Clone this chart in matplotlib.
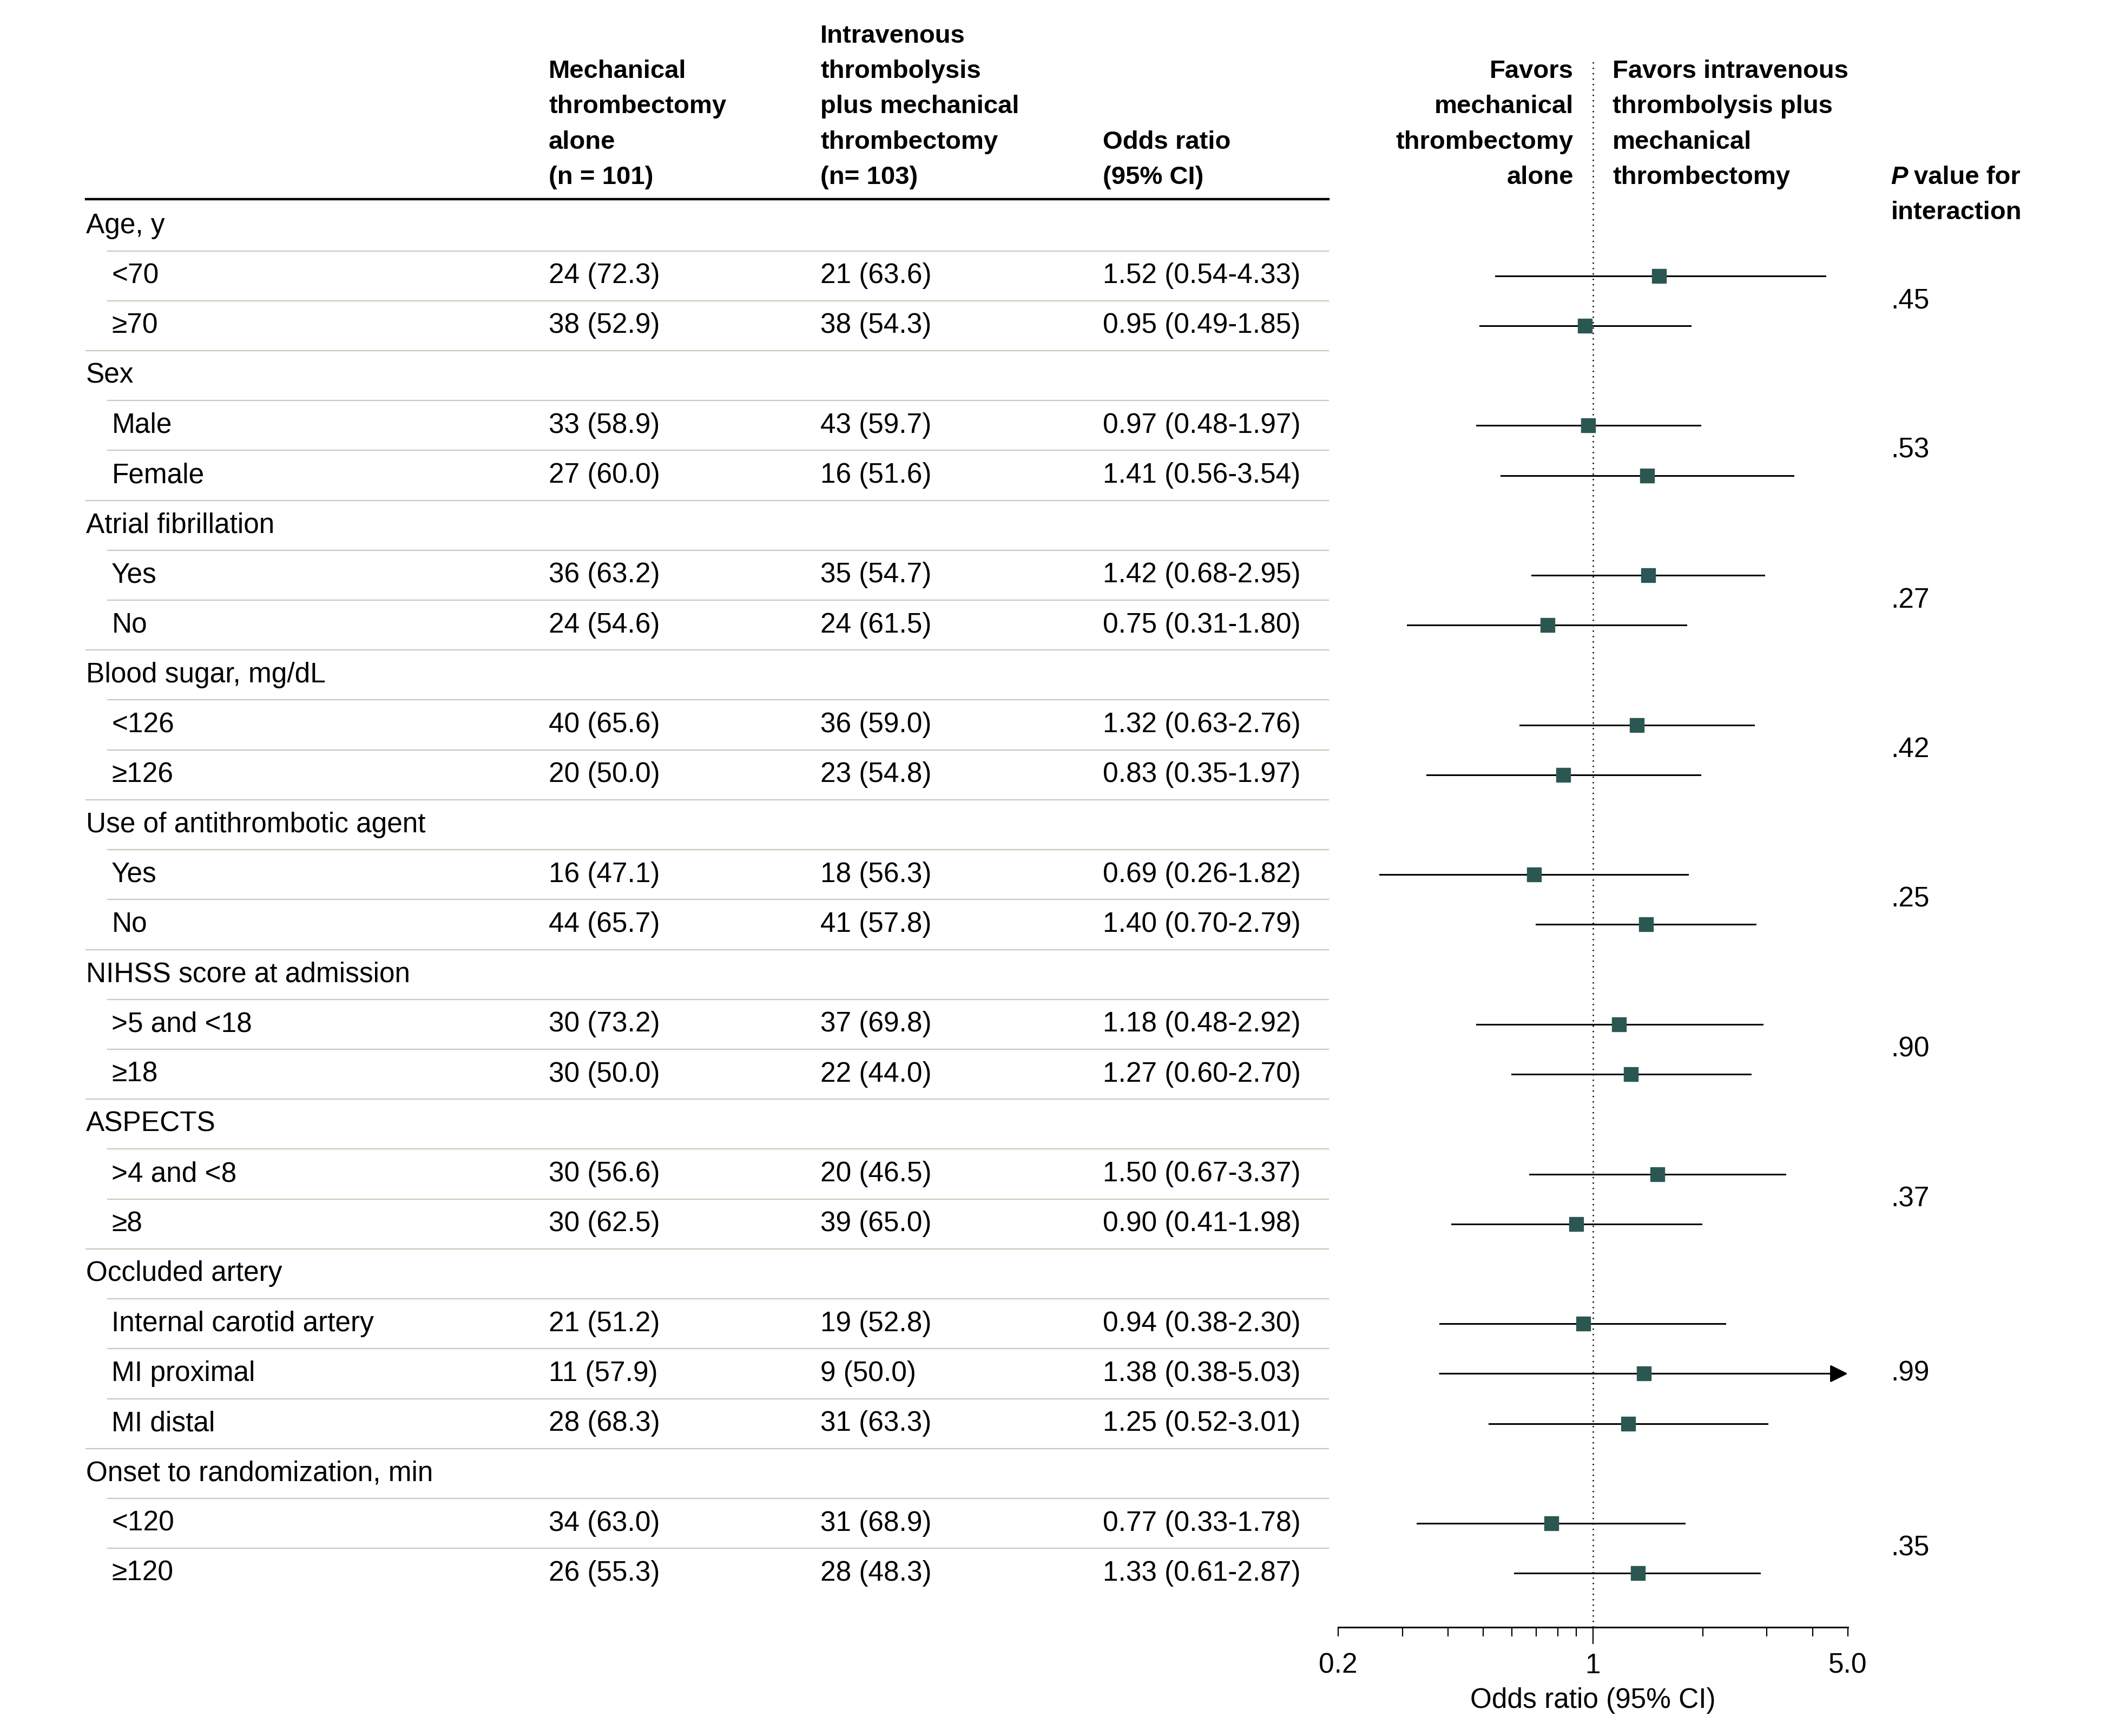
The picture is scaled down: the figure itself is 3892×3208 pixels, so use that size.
import numpy as np
import matplotlib.pyplot as plt
from matplotlib.ticker import FixedLocator, FixedFormatter, NullFormatter
from matplotlib.transforms import blended_transform_factory

plt.rcParams['font.family'] = ['Liberation Sans', 'DejaVu Sans']

# Data
groups = ['Age, y', 'Sex', 'Atrial fibrillation', 'Blood sugar, mg/dL',
          'Use of antithrombotic agent', 'NIHSS score at admission', 'ASPECTS',
          'Occluded artery', 'Onset to randomization, min']
subgroups = [['<70', '≥70'], ['Male', 'Female'], ['Yes', 'No'], ['<126', '≥126'],
             ['Yes', 'No'], ['>5 and <18', '≥18'], ['>4 and <8', '≥8'],
             ['Internal carotid artery', 'MI proximal', 'MI distal'], ['<120', '≥120']]
mt_n = [24, 38, 33, 27, 36, 24, 40, 20, 16, 44, 30, 30, 30, 30, 21, 11, 28, 34, 26]
mt_pct = [72.3, 52.9, 58.9, 60.0, 63.2, 54.6, 65.6, 50.0, 47.1, 65.7, 73.2, 50.0,
          56.6, 62.5, 51.2, 57.9, 68.3, 63.0, 55.3]
iv_n = [21, 38, 43, 16, 35, 24, 36, 23, 18, 41, 37, 22, 20, 39, 19, 9, 31, 31, 28]
iv_pct = [63.6, 54.3, 59.7, 51.6, 54.7, 61.5, 59.0, 54.8, 56.3, 57.8, 69.8, 44.0,
          46.5, 65.0, 52.8, 50.0, 63.3, 68.9, 48.3]
odds = [1.52, 0.95, 0.97, 1.41, 1.42, 0.75, 1.32, 0.83, 0.69, 1.40, 1.18, 1.27,
        1.50, 0.90, 0.94, 1.38, 1.25, 0.77, 1.33]
ci_lo = [0.54, 0.49, 0.48, 0.56, 0.68, 0.31, 0.63, 0.35, 0.26, 0.70, 0.48, 0.60,
         0.67, 0.41, 0.38, 0.38, 0.52, 0.33, 0.61]
ci_hi = [4.33, 1.85, 1.97, 3.54, 2.95, 1.80, 2.76, 1.97, 1.82, 2.79, 2.92, 2.70,
         3.37, 1.98, 2.30, 5.03, 3.01, 1.78, 2.87]
p_inter = ['.45', '.53', '.27', '.42', '.25', '.90', '.37', '.99', '.35']

# layout grid (px of a 1566 x 1291 view of the figure)
W, H = 1566, 1291
def fx(px):
    return px / W
def fy(py):
    return 1 - py / H

FS = 37      # body text
FSB = 34     # bold headers
x_lab, x_sub, x_mt, x_iv, x_or, x_p = 64, 83, 408, 610, 820, 1406
row0, pitch = 168, 37.11
line_col = '#c5cbb8'
sq_col = '#2b5753'

fig = plt.figure(figsize=(38.92, 32.08), dpi=100)
ax = fig.add_axes([fx(995), fy(1210), fx(1374) - fx(995), fy(45) - fy(1210)])
ax.set_xscale('log')
ax.set_xlim(0.2, 5)
ax.set_ylim((1210 - row0) / pitch, (45 - row0) / pitch)
tr = blended_transform_factory(fig.transFigure, ax.transData)

# build rows
rows = []  # (label, is_sub, data index or None)
k = 0
for g, subs in zip(groups, subgroups):
    rows.append((g, False, None))
    for s in subs:
        rows.append((s, True, k))
        k += 1

for i, (lab, is_sub, d) in enumerate(rows):
    ax.text(fx(x_sub if is_sub else x_lab), i, lab, transform=tr, fontsize=FS,
            va='center', ha='left', clip_on=False)
    if d is not None:
        ax.text(fx(x_mt), i, f'{mt_n[d]} ({mt_pct[d]:.1f})', transform=tr,
                fontsize=FS, va='center', clip_on=False)
        ax.text(fx(x_iv), i, f'{iv_n[d]} ({iv_pct[d]:.1f})', transform=tr,
                fontsize=FS, va='center', clip_on=False)
        ax.text(fx(x_or), i, f'{odds[d]:.2f} ({ci_lo[d]:.2f}-{ci_hi[d]:.2f})',
                transform=tr, fontsize=FS, va='center', clip_on=False)
        if ci_hi[d] > 5:
            ax.annotate('', xy=(5, i), xytext=(ci_lo[d], i),
                        arrowprops=dict(arrowstyle='-|>', color='black', lw=2.2,
                                        mutation_scale=50, shrinkA=0, shrinkB=0),
                        annotation_clip=False)
        else:
            ax.plot([ci_lo[d], ci_hi[d]], [i, i], color='black', lw=2.2, zorder=2)
        ax.plot(odds[d], i, marker='s', ms=19, color=sq_col, mec=sq_col, zorder=3)
    if i < len(rows) - 1:
        start = x_sub - 3 if rows[i + 1][1] else x_lab
        ax.plot([fx(start), fx(988)], [i + 0.5, i + 0.5], transform=tr,
                color=line_col, lw=1.6, clip_on=False)

# p values for interaction, centred on each group's subrows
i = 0
for subs, p in zip(subgroups, p_inter):
    ax.text(fx(x_p), i + 1 + (len(subs) - 1) / 2, p, transform=tr, fontsize=FS,
            va='center', clip_on=False)
    i += 1 + len(subs)

# header
ax.plot([fx(64), fx(988)], [(148 - row0) / pitch] * 2, transform=tr,
        color='black', lw=3.2, clip_on=False)
hdr_y = [132 - 26.3 * j for j in range(5)][::-1]  # top to bottom
def header(x, lines, ha='left'):
    for ln, y in zip(lines, hdr_y[-len(lines):]):
        fig.text(fx(x), fy(y), ln, fontsize=FSB, fontweight='bold', ha=ha, va='center')
header(x_mt, ['Mechanical', 'thrombectomy', 'alone', '(n = 101)'])
header(x_iv, ['Intravenous', 'thrombolysis', 'plus mechanical', 'thrombectomy', '(n= 103)'])
header(x_or, ['Odds ratio', '(95% CI)'])
header(1170, ['Favors', 'mechanical', 'thrombectomy', 'alone'], ha='right')
header(1199, ['Favors intravenous', 'thrombolysis plus', 'mechanical', 'thrombectomy'])
fig.text(fx(x_p), fy(132), 'P', fontsize=FSB, fontweight='bold', fontstyle='italic', va='center')
fig.text(fx(x_p + 17), fy(132), 'value for', fontsize=FSB, fontweight='bold', va='center')
fig.text(fx(x_p), fy(158.3), 'interaction', fontsize=FSB, fontweight='bold', va='center')

# reference line and axis
ax.axvline(1, color='black', lw=1.8, linestyle=(0, (1, 3)), zorder=1)
for s in ['top', 'left', 'right']:
    ax.spines[s].set_visible(False)
ax.spines['bottom'].set_linewidth(2.2)
ax.set_yticks([])
ax.xaxis.set_major_locator(FixedLocator([0.2, 1, 5]))
ax.xaxis.set_major_formatter(FixedFormatter(['0.2', '1', '5.0']))
ax.xaxis.set_minor_locator(FixedLocator([0.3, 0.4, 0.5, 0.6, 0.7, 0.8, 0.9, 2, 3, 4]))
ax.xaxis.set_minor_formatter(NullFormatter())
ax.tick_params(axis='x', which='both', direction='out', length=12, width=1.6,
               labelsize=FS, pad=22)
ax.xaxis.get_major_ticks()[1].tick1line.set_markersize(22)
ax.set_xlabel('Odds ratio (95% CI)', fontsize=FS, labelpad=11)

fig.savefig('out.png', dpi=100)
